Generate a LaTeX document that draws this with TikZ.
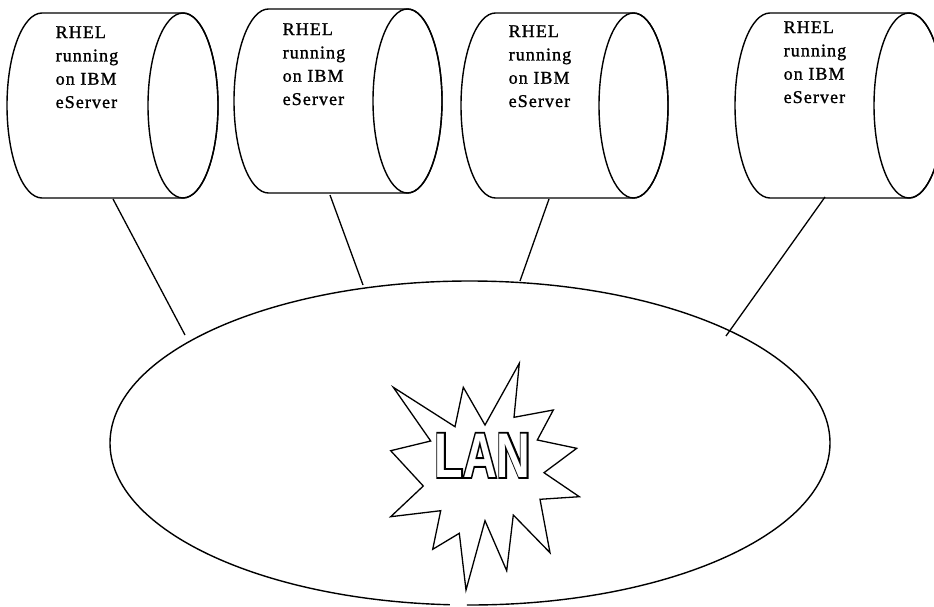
\documentclass[tikz,border=0pt]{standalone}
\usepackage{graphicx}
\usepackage{fontspec}
\setmainfont{Liberation Serif}
\newfontfamily\labfont[LetterSpace=6,RawFeature={embolden=1.2}]{Liberation Serif}
\newfontfamily\lanblack[RawFeature={embolden=6}]{Liberation Sans}
\newfontfamily\lanwhite{Liberation Sans}
\usetikzlibrary{shapes.geometric}
\begin{document}
\begin{tikzpicture}[x=1pt,y=-1pt,line width=1.4pt,
  lbl/.style={anchor=base west,align=left,inner sep=0pt,
    font=\labfont\fontsize{18}{23.3}\selectfont},
  conn/.style={line width=1.3pt},
  cyl/.style={line width=1.4pt},
  lanword/.style={anchor=base,inner sep=0pt}]
\useasboundingbox (0,0) rectangle (934,607);
\begin{scope}
\clip (0,0) rectangle (934,607);
% cylinder 1
\draw[cyl] (42,13) -- (183,13) arc[start angle=-90,end angle=90,x radius=35,y radius=92.5]
  -- (42,198) arc[start angle=90,end angle=270,x radius=35,y radius=92.5] -- cycle;
\draw[cyl] (183,105.5) ellipse[x radius=35,y radius=92.5];
% cylinder 2
\draw[cyl] (268.5,9) -- (407.5,9) arc[start angle=-90,end angle=90,x radius=34.5,y radius=92]
  -- (268.5,193) arc[start angle=90,end angle=270,x radius=34.5,y radius=92] -- cycle;
\draw[cyl] (407.5,101) ellipse[x radius=34.5,y radius=92];
% cylinder 3
\draw[cyl] (495.5,13) -- (633.5,13) arc[start angle=-90,end angle=90,x radius=34.5,y radius=92.5]
  -- (495.5,198) arc[start angle=90,end angle=270,x radius=34.5,y radius=92.5] -- cycle;
\draw[cyl] (633.5,105.5) ellipse[x radius=34.5,y radius=92.5];
% cylinder 4
\draw[cyl] (770,13) -- (909,13) arc[start angle=-90,end angle=90,x radius=35,y radius=92.5]
  -- (770,198) arc[start angle=90,end angle=270,x radius=35,y radius=92.5] -- cycle;
\draw[cyl] (909,105.5) ellipse[x radius=35,y radius=92.5];
\end{scope}
% labels (anchor at baseline of last line)
\node[lbl] (t1) at (55,108) {RHEL\\running\\on IBM\\eServer};
\node[lbl] (t2) at (282,105) {RHEL\\running\\on IBM\\eServer};
\node[lbl] (t3) at (508,107) {RHEL\\running\\on IBM\\eServer};
\node[lbl] (t4) at (783,103) {RHEL\\running\\on IBM\\eServer};
% LAN ellipse
\node[ellipse,minimum width=720pt,minimum height=324pt,inner sep=0pt] (lan) at (470,443) {};
\draw ([shift={(93.2:360 and 162)}]lan.center) arc[start angle=93.2,end angle=450.5,x radius=360,y radius=162];
% connector end points
\coordinate (c1) at (113,199); \coordinate (e1) at (185,335);
\coordinate (c2) at (330,195); \coordinate (e2) at (363,285);
\coordinate (c3) at (549,199); \coordinate (e3) at (520,281);
\coordinate (c4) at (825,197); \coordinate (e4) at (726,336);
\draw[conn] (c1) -- (e1);
\draw[conn] (c2) -- (e2);
\draw[conn] (c3) -- (e3);
\draw[conn] (c4) -- (e4);
% star
\draw[fill=white,line width=1.3pt,line join=miter]
 (393.3,387.3) -- (455,426.7) -- (463.3,387.3) -- (485,425) -- (519.3,363.3)
 -- (514,417.3) -- (553.3,410) -- (537.3,440) -- (576.7,448.3) -- (544,472.7)
 -- (579.3,496.7) -- (540,499.3) -- (550,552.7) -- (513.3,515) -- (506.7,570.7)
 -- (485,520.7) -- (466,590) -- (459.3,533.3) -- (432.7,549.3) -- (440.7,510.7)
 -- (390.7,516.7) -- (423.3,486) -- (390.7,450.7) -- (430.7,441) -- cycle;
% LAN word (outlined)
\node[lanword] (lanb) at (482.5,477) {\scalebox{0.74}[1]{\lanblack\bfseries\fontsize{63}{63}\selectfont LAN}};
\node[lanword,text=white] (lanw) at (482.5,477) {\scalebox{0.74}[1]{\lanwhite\bfseries\fontsize{63}{63}\selectfont LAN}};
\end{tikzpicture}
\end{document}
